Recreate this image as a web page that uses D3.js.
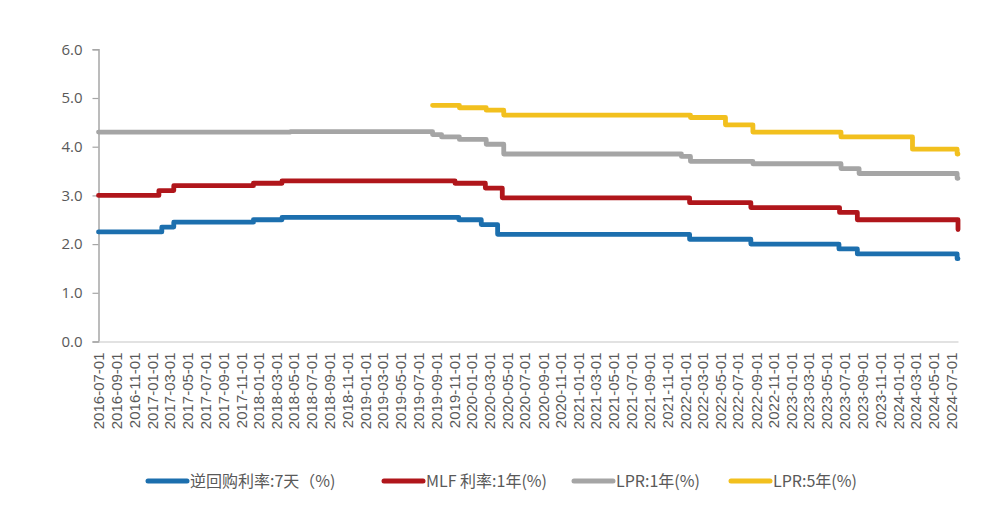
<!DOCTYPE html>
<html>
<head>
<meta charset="utf-8">
<script src="https://cdn.jsdelivr.net/npm/d3@7"></script>
<style>
  body { margin: 0; background: #fff; }
  svg { display: block; }
</style>
</head>
<body>
<div id="container"></div>
<script>
/* DATA: policy rate change points (date, value) */
const repoDates   = ["2016-07-01","2017-02-03","2017-03-16","2017-12-14","2018-03-22","2019-11-18","2020-02-03","2020-03-30","2022-01-17","2022-08-15","2023-06-13","2023-08-15","2024-07-22","2024-07-25"];
const repoValues  = [2.25, 2.35, 2.45, 2.50, 2.55, 2.50, 2.40, 2.20, 2.10, 2.00, 1.90, 1.80, 1.70, 1.70];

const mlfDates    = ["2016-07-01","2017-01-24","2017-03-16","2017-12-14","2018-03-22","2019-11-05","2020-02-17","2020-04-15","2022-01-17","2022-08-15","2023-06-15","2023-08-15","2024-07-25"];
const mlfValues   = [3.00, 3.10, 3.20, 3.25, 3.30, 3.25, 3.15, 2.95, 2.85, 2.75, 2.65, 2.50, 2.30];

const lpr1Dates   = ["2016-07-01","2018-04-20","2019-08-20","2019-09-20","2019-11-20","2020-02-20","2020-04-20","2021-12-20","2022-01-20","2022-08-22","2023-06-20","2023-08-21","2024-07-22","2024-07-25"];
const lpr1Values  = [4.30, 4.31, 4.25, 4.20, 4.15, 4.05, 3.85, 3.80, 3.70, 3.65, 3.55, 3.45, 3.35, 3.35];

const lpr5Dates   = ["2019-08-20","2019-11-20","2020-02-20","2020-04-20","2022-01-20","2022-05-20","2022-08-22","2023-06-20","2024-02-20","2024-07-22","2024-07-25"];
const lpr5Values  = [4.85, 4.80, 4.75, 4.65, 4.60, 4.45, 4.30, 4.20, 3.95, 3.85, 3.85];

const seriesNames  = ["逆回购利率:7天（%)", "MLF 利率:1年(%)", "LPR:1年(%)", "LPR:5年(%)"];
const seriesColors = ["#1c6fae", "#b0161b", "#a5a5a5", "#f2c01e"];
const yTicks = [0, 1, 2, 3, 4, 5, 6];

/* CONSTANTS */
const width = 988, height = 510;
const plot = { left: 98.5, right: 958, top: 49.3, bottom: 341.5 };
const parse = d3.timeParse("%Y-%m-%d");
const fmt = d3.timeFormat("%Y-%m-%d");

const series = [
  [repoDates, repoValues],
  [mlfDates, mlfValues],
  [lpr1Dates, lpr1Values],
  [lpr5Dates, lpr5Values]
].map(([ds, vs], i) => ({
  name: seriesNames[i],
  color: seriesColors[i],
  values: ds.map((d, j) => ({ date: parse(d), value: vs[j] }))
}));

const svg = d3.select("#container")
  .append("svg")
  .attr("width", width)
  .attr("height", height);

// scales
const xScale = d3.scaleTime()
  .domain([parse("2016-07-01"), parse("2024-07-25")])
  .range([plot.left, plot.right]);

const yScale = d3.scaleLinear()
  .domain([0, 6])
  .range([plot.bottom, plot.top]);

// y axis
const yAxis = svg.append("g")
  .attr("transform", `translate(${plot.left},0)`)
  .call(d3.axisLeft(yScale).tickValues(yTicks).tickFormat(d3.format(".1f")).tickSize(6).tickPadding(10));
yAxis.select(".domain").attr("stroke", "#a6a6a6").attr("stroke-width", 1.5);
yAxis.selectAll(".tick line").attr("stroke", "#a6a6a6").attr("stroke-width", 1.2);
yAxis.selectAll("text")
  .attr("fill", "#595959")
  .style("font-family", "'Open Sans', 'Liberation Sans', sans-serif")
  .style("font-size", "15px");

// x axis (line + rotated date labels every two months)
const xTicks = d3.timeMonth.every(2).range(parse("2016-07-01"), parse("2024-07-02"));
const xAxis = svg.append("g")
  .attr("transform", `translate(0,${plot.bottom})`)
  .call(d3.axisBottom(xScale).tickValues(xTicks).tickFormat(fmt).tickSize(0).tickPadding(0));
xAxis.select(".domain").attr("stroke", "#d9d9d9").attr("stroke-width", 1.5);
xAxis.selectAll("text")
  .attr("fill", "#595959")
  .attr("transform", "rotate(-90)")
  .attr("x", -11)
  .attr("y", 0)
  .attr("dy", "0.35em")
  .style("text-anchor", "end")
  .style("font-family", "'Liberation Sans', Arial, sans-serif")
  .style("font-size", "15px");

// lines
const line = d3.line()
  .x(d => xScale(d.date))
  .y(d => yScale(d.value))
  .curve(d3.curveStepAfter);

svg.selectAll(".rate-line")
  .data(series)
  .join("path")
  .attr("class", "rate-line")
  .attr("d", d => line(d.values))
  .attr("fill", "none")
  .attr("stroke", d => d.color)
  .attr("stroke-width", 4.8)
  .attr("stroke-linejoin", "round")
  .attr("stroke-linecap", "round");

// legend
const legendX = [148, 384, 574, 731];
const legend = svg.selectAll(".legend")
  .data(series)
  .join("g")
  .attr("class", "legend")
  .attr("transform", (d, i) => `translate(${legendX[i]},481)`);

legend.append("line")
  .attr("x1", 0).attr("x2", 39)
  .attr("stroke", d => d.color)
  .attr("stroke-width", 5)
  .attr("stroke-linecap", "round");

legend.append("text")
  .attr("x", 42)
  .attr("dy", "0.35em")
  .attr("fill", "#595959")
  .style("font-family", "'Noto Sans CJK SC', sans-serif")
  .style("font-size", "16px")
  .text(d => d.name);
</script>
</body>
</html>
